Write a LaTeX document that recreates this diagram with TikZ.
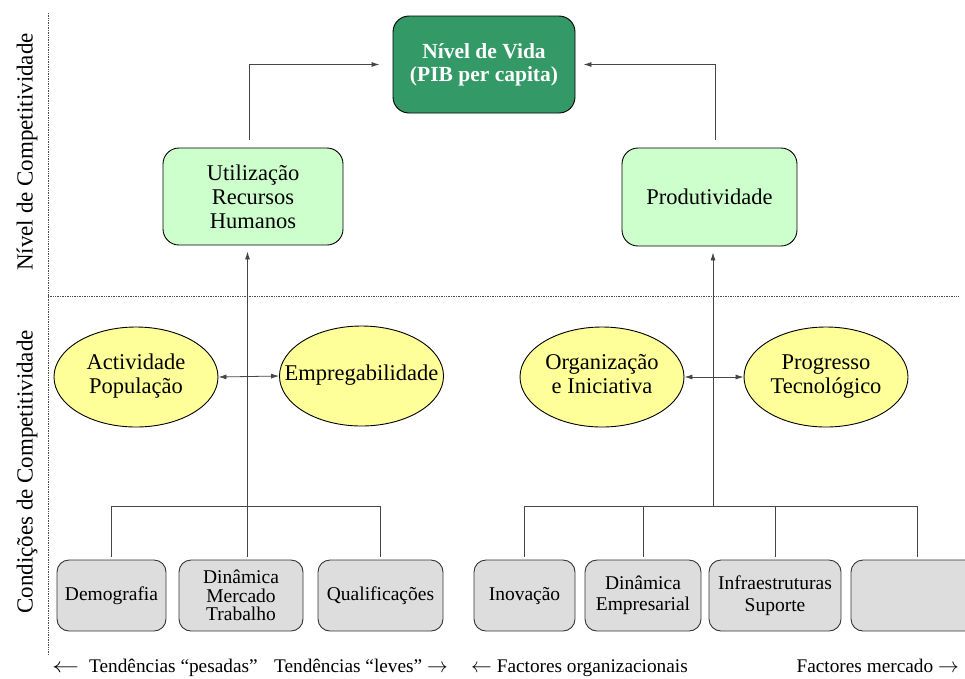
\documentclass[tikz,border=0pt]{standalone}
\usepackage{fontspec}
\setmainfont{Liberation Serif}
\usetikzlibrary{shapes.geometric,arrows.meta}

\definecolor{deepgreen}{RGB}{51,153,102}
\definecolor{palegreen}{RGB}{204,255,204}
\definecolor{paleyellow}{RGB}{255,255,153}
\definecolor{palegray}{RGB}{221,221,221}
\definecolor{wire}{RGB}{70,70,70}

\newcommand{\stack}[1]{\makebox[0pt]{\begin{tabular}{@{}c@{}}#1\end{tabular}}}

\tikzset{
  bigfont/.style={font=\fontsize{22.5}{24}\selectfont},
  smallfont/.style={font=\fontsize{19.5}{18.5}\selectfont},
  goalbox/.style={draw=black, line width=0.9pt, fill=deepgreen, rounded corners=16pt,
    minimum width=182pt, minimum height=97pt, inner sep=0pt, text=white, align=center,
    font=\fontsize{21.5}{24}\selectfont\bfseries},
  levelbox/.style={draw=black, line width=0.9pt, fill=palegreen, rounded corners=16pt,
    inner sep=0pt, align=center, bigfont},
  factor/.style={draw=black, line width=0.9pt, fill=paleyellow, ellipse,
    minimum width=164pt, minimum height=100pt, inner sep=0pt, bigfont},
  driver/.style={draw=black!80, line width=0.9pt, fill=palegray, rounded corners=12pt,
    minimum height=71pt, inner sep=0pt, align=center, smallfont},
  conn/.style={draw=wire, line width=0.8pt},
  tip/.style={-{Latex[length=8pt,width=5pt]}},
  twotip/.style={{Latex[length=8pt,width=5pt]}-{Latex[length=8pt,width=5pt]}},
  guide/.style={draw=black!70, line width=0.7pt, densely dotted},
  axislabel/.style={font=\fontsize{23}{24}\selectfont, inner sep=0pt},
  trend/.style={font=\fontsize{19.3}{21}\selectfont, inner sep=0pt}
}

\begin{document}
\begin{tikzpicture}[x=1pt,y=-1pt]
\useasboundingbox (0,0) rectangle (965,678);

% dotted frame separating the two levels
\draw[guide] (48,13) -- (48,655);
\draw[guide] (48,296) -- (958,296);

% side headings
\node[axislabel, rotate=90] (lvl) at (27,152) {Nível de Competitividade};
\node[axislabel, rotate=90] (cond) at (27,472) {Condições de Competitividade};

% top level
\node[goalbox] (top) at (484,64.5) {Nível de Vida\\[-1pt](PIB per capita)};
\node[levelbox, minimum width=180pt, minimum height=97pt] (util) at (253,196.5)
  {Utilização\\Recursos\\Humanos};
\node[levelbox, minimum width=175pt, minimum height=98pt] (prod) at (709.5,197)
  {Produtividade};

% intermediate factors
\node[factor] (act)  at (136,377)   {\stack{Actividade\\População}};
\node[factor] (emp)  at (361.5,376) {\stack{Empregabilidade}};
\node[factor] (org)  at (602,377)   {\stack{Organização\\e Iniciativa}};
\node[factor] (prog) at (826,377)   {\stack{Progresso\\Tecnológico}};

% underlying drivers
\node[driver, minimum width=109pt] (demo) at (111.5,595.5) {Demografia};
\node[driver, minimum width=124pt] (dmt)  at (241,595.5)   {Dinâmica\\Mercado\\Trabalho};
\node[driver, minimum width=125pt] (qual) at (380.5,595.5) {Qualificações};
\node[driver, minimum width=101pt] (inov) at (524.5,595.5) {Inovação};
\node[driver, minimum width=116pt] (dine) at (643,595.5)   {Dinâmica\\[3pt]Empresarial};
\node[driver, minimum width=132pt] (infr) at (775,595.5)   {Infraestruturas\\[3pt]Suporte};
\node[driver, minimum width=132pt] (outr) at (917,595.5)   {};

% bus junctions
\coordinate (lbus) at (247.5,506);
\coordinate (rbus) at (713,506);

% links to the top goal
\draw[conn,tip] ([shift={(-4,-8)}]util.north) |- ([xshift=-13pt]top.west);
\draw[conn,tip] ([shift={(5.5,-8)}]prod.north) |- ([xshift=8pt]top.east);

% left branch
\draw[conn] ([yshift=3pt]demo.north) |- (lbus) -| ([yshift=3pt]qual.north);
\draw[conn,tip] ([shift={(6.5,-3)}]dmt.north) -- ([shift={(-5.5,6)}]util.south);
\draw[conn,twotip] (act.east) -- (emp.west);

% right branch
\draw[conn] ([yshift=3pt]inov.north) |- (rbus) -| ([yshift=3pt]outr.north);
\draw[conn] ([yshift=3pt]dine.north) -- (dine.north |- rbus);
\draw[conn] ([yshift=3pt]infr.north) -- (infr.north |- rbus);
\draw[conn,tip] (rbus) -- ([shift={(3.5,6)}]prod.south);
\draw[conn,twotip] (org.east) -- (prog.west);

% trend captions
\node[trend, anchor=base west] (t1) at (52,672)
  {\scalebox{1.3}[1]{$\leftarrow$}\hspace{10pt}Tendências “pesadas”};
\node[trend, anchor=base east] (t2) at (448,672) {Tendências “leves” $\rightarrow$};
\node[trend, anchor=base west] (t3) at (471,672) {$\leftarrow$ Factores organizacionais};
\node[trend, anchor=base east] (t4) at (959,672) {Factores mercado $\rightarrow$};
\end{tikzpicture}
\end{document}
